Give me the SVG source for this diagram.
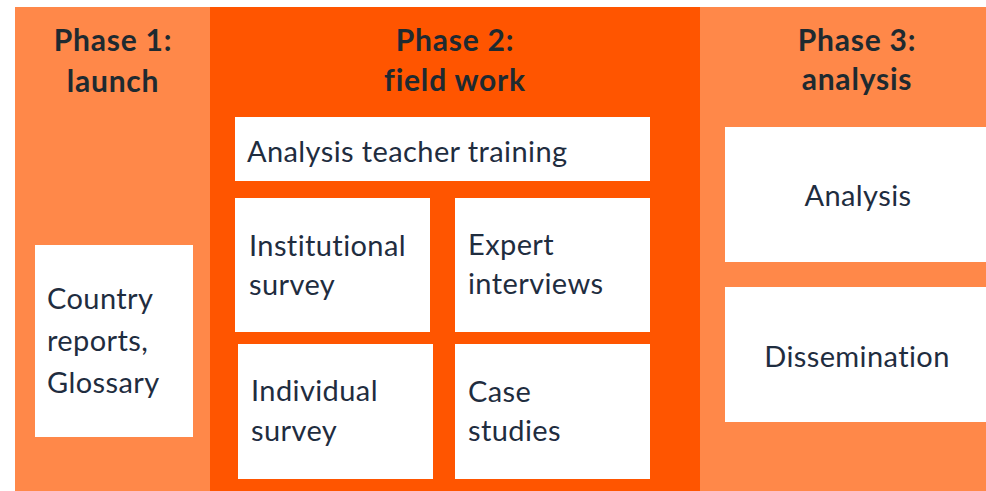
<svg xmlns="http://www.w3.org/2000/svg" width="986" height="491" viewBox="0 0 986 491">
<style>
.light{fill:#FF8849}
.dark{fill:#FF5500}
.box{fill:#FFFFFF}
.hdr{font-family:Lato,"Liberation Sans",sans-serif;font-weight:bold;font-size:30px;letter-spacing:0.8px;fill:#1E2A30;text-anchor:middle}
.txt{font-family:Lato,"Liberation Sans",sans-serif;font-size:29px;letter-spacing:0.4px;fill:#1F2D3F}
.mid{text-anchor:middle}
</style>
<rect width="986" height="491" fill="#FFFFFF"/>
<g id="phase1">
<rect class="light" x="15" y="7" width="195" height="484"/>
<text class="hdr" x="113" y="51">Phase 1:</text>
<text class="hdr" x="113" y="92">launch</text>
</g>
<g id="phase2">
<rect class="dark" x="210" y="7" width="490" height="484"/>
<text class="hdr" x="455" y="51">Phase 2:</text>
<text class="hdr" x="455" y="91">field work</text>
</g>
<g id="phase3">
<rect class="light" x="700" y="7" width="286" height="484"/>
<text class="hdr" x="857" y="51">Phase 3:</text>
<text class="hdr" x="857" y="90">analysis</text>
</g>
<g id="country-reports">
<rect class="box" x="35" y="245" width="158" height="192"/>
<text class="txt" x="47" y="309">Country</text>
<text class="txt" x="47" y="351">reports,</text>
<text class="txt" x="47" y="393">Glossary</text>
</g>
<g id="teacher-training">
<rect class="box" x="235" y="117" width="415" height="64"/>
<text class="txt" x="247" y="162">Analysis teacher training</text>
</g>
<g id="institutional-survey">
<rect class="box" x="235" y="198" width="195" height="134"/>
<text class="txt" x="249" y="256">Institutional</text>
<text class="txt" x="249" y="295">survey</text>
</g>
<g id="expert-interviews">
<rect class="box" x="455" y="198" width="195" height="134"/>
<text class="txt" x="468" y="255">Expert</text>
<text class="txt" x="468" y="294">interviews</text>
</g>
<g id="individual-survey">
<rect class="box" x="238" y="344" width="195" height="135"/>
<text class="txt" x="251" y="401">Individual</text>
<text class="txt" x="251" y="441">survey</text>
</g>
<g id="case-studies">
<rect class="box" x="455" y="344" width="195" height="135"/>
<text class="txt" x="468" y="402">Case</text>
<text class="txt" x="468" y="441">studies</text>
</g>
<g id="analysis">
<rect class="box" x="725" y="127" width="261" height="135"/>
<text class="txt mid" x="858" y="206">Analysis</text>
</g>
<g id="dissemination">
<rect class="box" x="725" y="287" width="261" height="135"/>
<text class="txt mid" x="857" y="367">Dissemination</text>
</g>
<g id="connectors"></g>
</svg>
